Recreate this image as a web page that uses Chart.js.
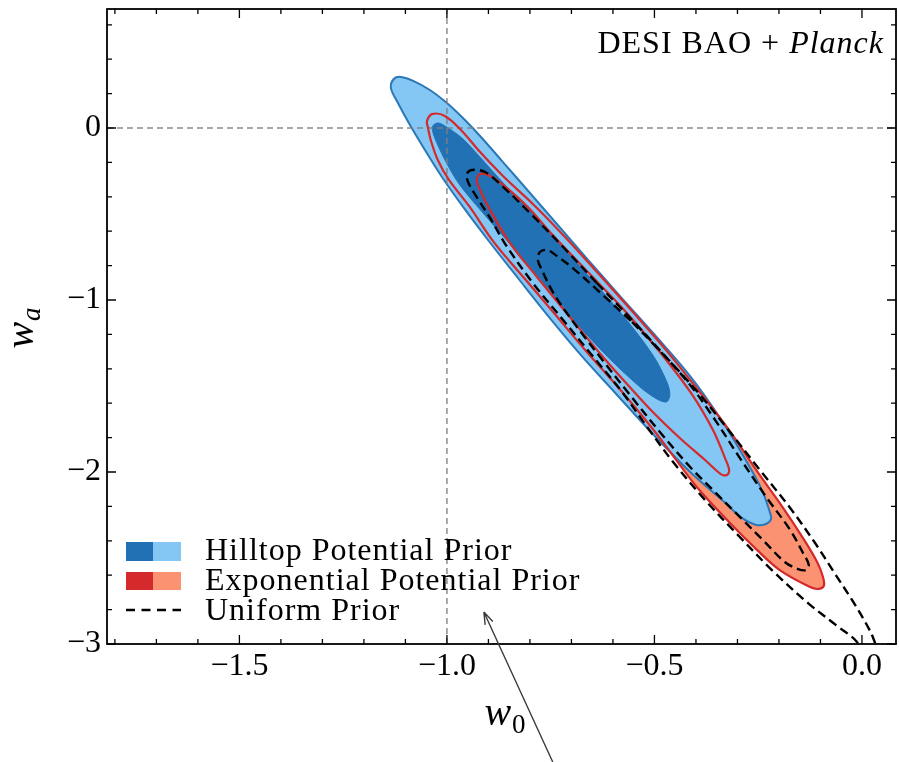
<!DOCTYPE html>
<html>
<head>
<meta charset="utf-8">
<script src="https://cdn.jsdelivr.net/npm/chart.js@4.4.1/dist/chart.umd.min.js"></script>
<style>
  html, body { margin: 0; padding: 0; background: #fff; }
  #wrap { width: 899px; height: 762px; }
</style>
</head>
<body>
<div id="wrap"><canvas id="chart" width="899" height="762"></canvas></div>
<script>
// contour outlines, [w0, wa] pairs, each one a closed loop
const hilltop2 = [
  [-0.660, -0.767], [-0.583, -0.977], [-0.499, -1.203], [-0.414, -1.442], [-0.342, -1.686],
  [-0.280, -1.930], [-0.241, -2.105], [-0.222, -2.233], [-0.219, -2.273], [-0.231, -2.302],
  [-0.255, -2.308], [-0.289, -2.267], [-0.337, -2.163], [-0.414, -2.000], [-0.504, -1.779],
  [-0.590, -1.552], [-0.675, -1.326], [-0.752, -1.105], [-0.829, -0.872], [-0.901, -0.651],
  [-0.961, -0.459], [-1.012, -0.285], [-1.053, -0.128], [-1.089, 0.017], [-1.118, 0.145],
  [-1.135, 0.233], [-1.128, 0.285], [-1.111, 0.297], [-1.080, 0.273], [-1.041, 0.221],
  [-1.000, 0.145], [-0.959, 0.052], [-0.918, -0.052], [-0.865, -0.198], [-0.802, -0.372],
  [-0.733, -0.564], [-0.660, -0.767]
];
const hilltop1 = [
  [-0.716, -0.703], [-0.648, -0.890], [-0.573, -1.099], [-0.504, -1.320], [-0.470, -1.477],
  [-0.463, -1.552], [-0.472, -1.593], [-0.506, -1.558], [-0.554, -1.465], [-0.624, -1.302],
  [-0.699, -1.105], [-0.773, -0.884], [-0.846, -0.680], [-0.913, -0.494], [-0.969, -0.331],
  [-1.002, -0.198], [-1.022, -0.099], [-1.034, -0.023], [-1.034, 0.012], [-1.022, 0.029],
  [-1.005, 0.012], [-0.964, -0.058], [-0.925, -0.157], [-0.860, -0.331], [-0.788, -0.512],
  [-0.716, -0.703]
];
const expo2 = [
  [-0.634, -0.849], [-0.554, -1.064], [-0.470, -1.297], [-0.393, -1.529], [-0.320, -1.756],
  [-0.255, -1.988], [-0.193, -2.198], [-0.142, -2.384], [-0.108, -2.523], [-0.094, -2.610],
  [-0.092, -2.663], [-0.106, -2.680], [-0.125, -2.669], [-0.198, -2.570], [-0.253, -2.453],
  [-0.318, -2.297], [-0.398, -2.087], [-0.451, -1.919], [-0.506, -1.744], [-0.586, -1.512],
  [-0.667, -1.291], [-0.742, -1.076], [-0.814, -0.872], [-0.887, -0.663], [-0.945, -0.459],
  [-0.995, -0.302], [-1.022, -0.186], [-1.039, -0.070], [-1.046, 0.006], [-1.048, 0.041],
  [-1.036, 0.081], [-1.005, 0.070], [-0.964, -0.017], [-0.920, -0.140], [-0.865, -0.279],
  [-0.788, -0.453], [-0.711, -0.645], [-0.634, -0.849]
];
const expo1 = [
  [-0.665, -0.826], [-0.573, -1.058], [-0.487, -1.302], [-0.410, -1.547], [-0.359, -1.756],
  [-0.330, -1.919], [-0.320, -1.988], [-0.325, -2.017], [-0.340, -2.012], [-0.378, -1.930],
  [-0.439, -1.802], [-0.504, -1.651], [-0.564, -1.494], [-0.624, -1.331], [-0.704, -1.099],
  [-0.783, -0.866], [-0.848, -0.669], [-0.896, -0.477], [-0.920, -0.360], [-0.928, -0.302],
  [-0.920, -0.267], [-0.896, -0.279], [-0.855, -0.349], [-0.805, -0.459], [-0.745, -0.622],
  [-0.665, -0.826]
];
const uniform2 = [
  [-0.639, -0.901], [-0.554, -1.116], [-0.470, -1.337], [-0.390, -1.552], [-0.318, -1.767],
  [-0.246, -1.988], [-0.173, -2.209], [-0.113, -2.413], [-0.063, -2.599], [-0.024, -2.744],
  [0.005, -2.860], [0.027, -2.965], [0.036, -3.047], [0.029, -3.105], [0.010, -3.093],
  [-0.012, -2.988], [-0.060, -2.895], [-0.130, -2.762], [-0.217, -2.570], [-0.299, -2.366],
  [-0.378, -2.163], [-0.453, -1.948], [-0.516, -1.744], [-0.578, -1.535], [-0.651, -1.320],
  [-0.720, -1.116], [-0.793, -0.901], [-0.858, -0.680], [-0.896, -0.523], [-0.930, -0.395],
  [-0.949, -0.314], [-0.952, -0.267], [-0.940, -0.244], [-0.908, -0.256], [-0.867, -0.337],
  [-0.800, -0.494], [-0.720, -0.692], [-0.639, -0.901]
];
const uniform1 = [
  [-0.554, -1.128], [-0.482, -1.308], [-0.414, -1.494], [-0.357, -1.686], [-0.294, -1.919],
  [-0.234, -2.134], [-0.173, -2.337], [-0.142, -2.471], [-0.128, -2.541], [-0.135, -2.570],
  [-0.154, -2.564], [-0.186, -2.523], [-0.239, -2.395], [-0.294, -2.262], [-0.359, -2.105],
  [-0.414, -1.971], [-0.487, -1.767], [-0.559, -1.552], [-0.631, -1.331], [-0.672, -1.203],
  [-0.713, -1.070], [-0.745, -0.953], [-0.769, -0.837], [-0.781, -0.767], [-0.776, -0.721],
  [-0.759, -0.709], [-0.735, -0.744], [-0.694, -0.820], [-0.627, -0.965], [-0.554, -1.128]
];

const xRange = [-1.819, 0.082];
const yRange = [-3.0, 0.692];
const xMajorTicks = [-1.5, -1.0, -0.5, 0.0];
const xTickLabels = ['−1.5', '−1.0', '−0.5', '0.0'];
const yMajorTicks = [-3, -2, -1, 0];
const yTickLabels = ['−3', '−2', '−1', '0'];
const refW0 = -1;
const refWa = 0;
const legendLabels = ['Hilltop Potential Prior', 'Exponential Potential Prior', 'Uniform Prior'];
const arrowFrom = [-0.745, -3.686];
const arrowTo = [-0.911, -2.814];

const serif = '"Liberation Serif", "Times New Roman", serif';
const darkBlue = '#2171b4';
const lightBlue = '#84c6f4';
const blueEdge = '#2b78b7';
const red = '#d42a2b';
const salmon = '#fb9372';

const toXY = pts => pts.map(p => ({ x: p[0], y: p[1] }));

function loop(pts, opts) {
  return Object.assign({
    data: toXY(pts),
    showLine: true,
    pointRadius: 0,
    pointHoverRadius: 0,
    tension: 0.35,
    fill: false,
    borderWidth: 0,
    borderColor: 'rgba(0,0,0,0)',
    backgroundColor: 'rgba(0,0,0,0)'
  }, opts);
}

const datasets = [
  loop(uniform1, { borderColor: '#000', borderWidth: 2.4, borderDash: [9, 5], order: 0 }),
  loop(uniform2, { borderColor: '#000', borderWidth: 2.4, borderDash: [9, 5], order: 1 }),
  loop(expo1, { borderColor: red, borderWidth: 2.2, order: 2 }),
  loop(expo2, { borderColor: red, borderWidth: 2.2, order: 3 }),
  {
    data: [{ x: refW0, y: yRange[0] }, { x: refW0, y: yRange[1] }],
    showLine: true, pointRadius: 0, borderColor: 'rgba(128,128,128,0.9)',
    borderWidth: 1.5, borderDash: [6, 4], order: 4
  },
  {
    data: [{ x: xRange[0], y: refWa }, { x: xRange[1], y: refWa }],
    showLine: true, pointRadius: 0, borderColor: 'rgba(128,128,128,0.9)',
    borderWidth: 1.5, borderDash: [6, 4], order: 4
  },
  loop(hilltop1, { fill: 'shape', backgroundColor: darkBlue, borderColor: darkBlue, borderWidth: 1, order: 5 }),
  loop(hilltop2, { fill: 'shape', backgroundColor: lightBlue, borderColor: blueEdge, borderWidth: 2, order: 6 }),
  loop(expo2, { fill: 'shape', backgroundColor: salmon, order: 7 })
];

// frame and inward ticks on all four sides
const framePlugin = {
  id: 'frame',
  afterDatasetsDraw(chart) {
    const { ctx, chartArea: a, scales: { x, y } } = chart;
    ctx.save();
    ctx.strokeStyle = '#000';
    ctx.lineWidth = 1.3;
    ctx.beginPath();
    for (let i = -18; i <= 0; i++) {
      const px = x.getPixelForValue(i / 10);
      const len = i % 5 === 0 ? 9 : 5;
      ctx.moveTo(px, a.bottom); ctx.lineTo(px, a.bottom - len);
      ctx.moveTo(px, a.top); ctx.lineTo(px, a.top + len);
    }
    for (let i = -15; i <= 3; i++) {
      const py = y.getPixelForValue(i / 5);
      const len = i % 5 === 0 ? 9 : 5;
      ctx.moveTo(a.left, py); ctx.lineTo(a.left + len, py);
      ctx.moveTo(a.right, py); ctx.lineTo(a.right - len, py);
    }
    ctx.stroke();
    ctx.lineWidth = 1.8;
    ctx.strokeRect(a.left, a.top, a.right - a.left, a.bottom - a.top);
    ctx.restore();
  }
};

// legend, axis titles, label and the pointer arrow
const textPlugin = {
  id: 'texts',
  afterDraw(chart) {
    const { ctx, chartArea: a, scales: { x, y } } = chart;
    ctx.save();
    ctx.fillStyle = '#000';
    ctx.textBaseline = 'alphabetic';

    // legend
    const L = a.left, B = a.bottom;
    ctx.fillStyle = darkBlue; ctx.fillRect(L + 19, B - 102, 27, 19);
    ctx.fillStyle = lightBlue; ctx.fillRect(L + 46, B - 102, 28, 19);
    ctx.fillStyle = red; ctx.fillRect(L + 19, B - 72, 27, 18);
    ctx.fillStyle = salmon; ctx.fillRect(L + 46, B - 72, 28, 18);
    ctx.strokeStyle = '#000';
    ctx.lineWidth = 2.5;
    ctx.setLineDash([9, 6.5]);
    ctx.beginPath();
    ctx.moveTo(L + 19, B - 34); ctx.lineTo(L + 74, B - 34);
    ctx.stroke();
    ctx.setLineDash([]);
    ctx.fillStyle = '#000';
    ctx.font = '32px ' + serif;
    ctx.letterSpacing = '1px';
    ctx.textAlign = 'left';
    legendLabels.forEach((t, i) => ctx.fillText(t, L + 98, B - 84 + i * 30));

    // DESI BAO + Planck
    ctx.textAlign = 'left';
    ctx.font = 'italic 32px ' + serif;
    const wItal = ctx.measureText('Planck').width;
    ctx.font = '32px ' + serif;
    const wNorm = ctx.measureText('DESI BAO + ').width;
    const x0 = a.right - 12 - wItal - wNorm;
    ctx.fillText('DESI BAO + ', x0, a.top + 44);
    ctx.font = 'italic 32px ' + serif;
    ctx.fillText('Planck', x0 + wNorm, a.top + 44);
    ctx.letterSpacing = '0px';

    // axis titles with subscripts
    ctx.font = 'italic 40px ' + serif;
    const ww = ctx.measureText('w').width;
    ctx.font = '27px ' + serif;
    const w0 = ctx.measureText('0').width;
    const cx = (a.left + a.right) / 2 + 3 - (ww + w0) / 2;
    ctx.font = 'italic 40px ' + serif;
    ctx.fillText('w', cx, a.bottom + 81);
    ctx.font = '27px ' + serif;
    ctx.fillText('0', cx + ww + 1, a.bottom + 89);

    ctx.save();
    ctx.translate(33, (a.top + a.bottom) / 2 + 2);
    ctx.rotate(-Math.PI / 2);
    ctx.font = 'italic 27px ' + serif;
    const wa = ctx.measureText('a').width;
    const sy = -(ww + wa) / 2;
    ctx.font = 'italic 40px ' + serif;
    ctx.fillText('w', sy, 0);
    ctx.font = 'italic 27px ' + serif;
    ctx.fillText('a', sy + ww + 1, 7);
    ctx.restore();

    // pointer arrow
    const ax0 = x.getPixelForValue(arrowFrom[0]), ay0 = y.getPixelForValue(arrowFrom[1]);
    const ax1 = x.getPixelForValue(arrowTo[0]), ay1 = y.getPixelForValue(arrowTo[1]);
    const ang = Math.atan2(ay1 - ay0, ax1 - ax0);
    ctx.strokeStyle = '#3c3c3c';
    ctx.lineWidth = 1.4;
    ctx.beginPath();
    ctx.moveTo(ax0, ay0); ctx.lineTo(ax1, ay1);
    ctx.moveTo(ax1, ay1);
    ctx.lineTo(ax1 - 13 * Math.cos(ang - 0.33), ay1 - 13 * Math.sin(ang - 0.33));
    ctx.moveTo(ax1, ay1);
    ctx.lineTo(ax1 - 13 * Math.cos(ang + 0.33), ay1 - 13 * Math.sin(ang + 0.33));
    ctx.stroke();
    ctx.restore();
  }
};

new Chart(document.getElementById('chart'), {
  type: 'scatter',
  data: { datasets: datasets },
  options: {
    responsive: false,
    animation: false,
    devicePixelRatio: 1,
    events: [],
    layout: { padding: { left: 0, top: 9, right: 3, bottom: 0 } },
    elements: { line: { capBezierPoints: false } },
    plugins: { legend: { display: false }, tooltip: { enabled: false } },
    scales: {
      x: {
        type: 'linear',
        min: xRange[0],
        max: xRange[1],
        grid: { display: false, drawTicks: false },
        border: { display: false },
        afterBuildTicks: s => { s.ticks = xMajorTicks.map(v => ({ value: v })); },
        afterFit: s => { s.height = 118; s.paddingLeft = 0; s.paddingRight = 0; },
        ticks: {
          autoSkip: false,
          maxRotation: 0,
          padding: 3,
          color: '#000',
          font: { family: serif, size: 32 },
          callback: v => xTickLabels[xMajorTicks.indexOf(v)]
        }
      },
      y: {
        type: 'linear',
        min: yRange[0],
        max: yRange[1],
        grid: { display: false, drawTicks: false },
        border: { display: false },
        afterBuildTicks: s => { s.ticks = yMajorTicks.map(v => ({ value: v })); },
        afterFit: s => { s.width = 107; s.paddingTop = 0; s.paddingBottom = 0; },
        ticks: {
          autoSkip: false,
          padding: 6,
          color: '#000',
          font: { family: serif, size: 32 },
          callback: v => yTickLabels[yMajorTicks.indexOf(v)]
        }
      }
    }
  },
  plugins: [framePlugin, textPlugin]
});
</script>
</body>
</html>
